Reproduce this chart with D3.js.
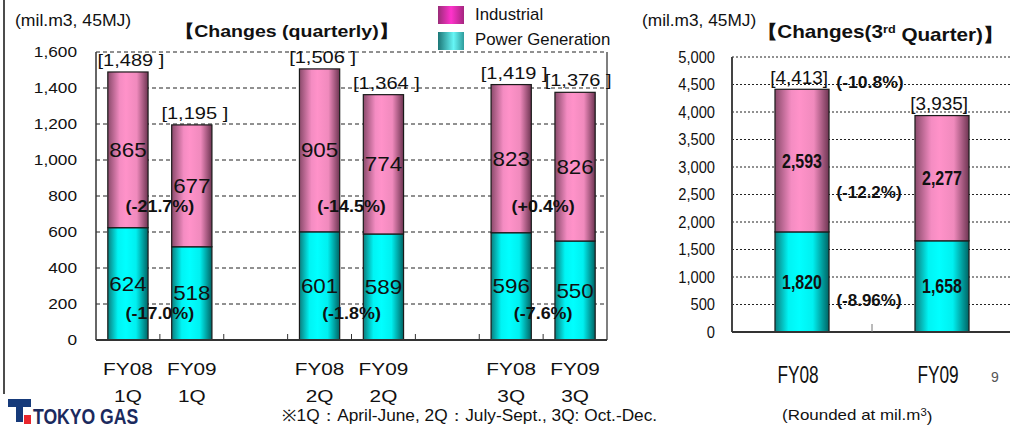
<!DOCTYPE html>
<html lang="en">
<head>
    <meta charset="UTF-8">
    <title>Gas sales changes</title>
    <script src="https://d3js.org/d3.v7.min.js"></script>
    <style>
        body { margin: 0; background: #fff; }
        text { font-family: Arial, "Liberation Sans", sans-serif; fill: #111; }
    </style>
</head>
<body>
<script>
    const width = 1010;
    const height = 428;

    // quarterly chart (left)
    const qSlots = ["FY08 1Q", "FY09 1Q", "gap1", "FY08 2Q", "FY09 2Q", "gap2", "FY08 3Q", "FY09 3Q"];
    const qCategories = ["FY08 1Q", "FY09 1Q", "FY08 2Q", "FY09 2Q", "FY08 3Q", "FY09 3Q"];
    const qPower = [624, 518, 601, 589, 596, 550];
    const qIndustrial = [865, 677, 905, 774, 823, 826];
    const qTotals = ["[1,489 ]", "[1,195 ]", "[1,506 ]", "[1,364 ]", "[1,419 ]", "[1,376 ]"];
    const qIndChange = ["(-21.7%)", "(-14.5%)", "(+0.4%)"];
    const qPowChange = ["(-17.0%)", "(-1.8%)", "(-7.6%)"];
    const qTicks = [0, 200, 400, 600, 800, 1000, 1200, 1400, 1600];

    // 3rd quarter cumulative chart (right)
    const cCategories = ["FY08", "FY09"];
    const cPower = [1820, 1658];
    const cIndustrial = [2593, 2277];
    const cTotals = ["[4,413]", "[3,935]"];
    const cChanges = {total: "(-10.8%)", industrial: "(-12.2%)", power: "(-8.96%)"};
    const cTicks = [0, 500, 1000, 1500, 2000, 2500, 3000, 3500, 4000, 4500, 5000];

    const fmt = d3.format(",");

    const svg = d3.select("body").append("svg")
            .attr("width", width).attr("height", height);

    const defs = svg.append("defs");
    function grad(id, stops) {
        const g = defs.append("linearGradient").attr("id", id)
                .attr("x1", 0).attr("x2", 1).attr("y1", 0).attr("y2", 0);
        stops.forEach(s => g.append("stop").attr("offset", s[0]).attr("stop-color", s[1]));
    }
    grad("pinkBar", [[0, "#8a4a6b"], [0.3, "#f48cc2"], [0.45, "#ff92c9"], [0.72, "#f08abd"], [1, "#6e3552"]]);
    grad("cyanBar", [[0, "#0b7d7d"], [0.25, "#00f4f4"], [0.45, "#00ffff"], [0.7, "#00f0f0"], [1, "#006464"]]);
    grad("pinkKey", [[0, "#9a2c78"], [0.5, "#ff33cc"], [1, "#a5267f"]]);
    grad("cyanKey", [[0, "#1c7676"], [0.6, "#66f6f6"], [1, "#2f9c9c"]]);

    // text helper: original text is slightly stretched or condensed horizontally
    function label(x, y, str, o = {}) {
        return svg.append("text")
                .attr("transform", `translate(${x},${y}) scale(${o.sx || 1},1)`)
                .attr("dy", "0.35em")
                .attr("text-anchor", o.anchor || "middle")
                .style("font-size", (o.size || 16) + "px")
                .style("font-weight", o.bold ? "bold" : "normal")
                .style("fill", o.fill || "#111")
                .text(str);
    }

    // ---------- left chart ----------
    const xL = d3.scaleBand().domain(qSlots).range([96, 607])
            .paddingInner(0.37).paddingOuter(0.185);
    const yL = d3.scaleLinear().domain([0, 1600]).range([340, 52]);

    const left = svg.append("g");
    left.selectAll("line.grid").data(qTicks.slice(1)).enter().append("line")
            .attr("x1", 96).attr("x2", 607)
            .attr("y1", d => yL(d)).attr("y2", d => yL(d))
            .style("stroke", "#222").style("stroke-dasharray", "4,3");
    left.append("line").attr("x1", 607).attr("x2", 607).attr("y1", yL(1600)).attr("y2", yL(0))
            .style("stroke", "#555").style("stroke-width", 1.5);

    qTicks.forEach(t => label(77, yL(t), fmt(t), {anchor: "end", size: 15, sx: 1.15}));

    const qTable = qCategories.map((c, i) => ({cat: c, power: qPower[i], industrial: qIndustrial[i]}));
    const qStack = d3.stack().keys(["power", "industrial"])(qTable);

    left.selectAll("g.series").data(qStack).enter().append("g")
            .style("fill", d => d.key === "power" ? "url(#cyanBar)" : "url(#pinkBar)")
            .selectAll("rect").data(d => d).enter().append("rect")
            .attr("x", d => xL(d.data.cat))
            .attr("width", xL.bandwidth())
            .attr("y", d => yL(d[1]))
            .attr("height", d => yL(d[0]) - yL(d[1]))
            .style("stroke", "#1a1a1a").style("stroke-width", 1.2);

    // axes lines
    left.append("line").attr("x1", 96).attr("x2", 96).attr("y1", yL(1600)).attr("y2", yL(0))
            .style("stroke", "#333").style("stroke-width", 1.5);
    left.append("line").attr("x1", 96).attr("x2", 607).attr("y1", yL(0)).attr("y2", yL(0))
            .style("stroke", "#333").style("stroke-width", 2);
    d3.range(1, qSlots.length).forEach(i => {
        const x = 96 + i * xL.step();
        left.append("line").attr("x1", x).attr("x2", x).attr("y1", yL(0)).attr("y2", yL(0) - 6)
                .style("stroke", "#333");
    });

    // value labels
    qStack.forEach(s => s.forEach(d => {
        const cx = xL(d.data.cat) + xL.bandwidth() / 2;
        label(cx, (yL(d[0]) + yL(d[1])) / 2, d.data[s.key], {size: 20, sx: 1.12});
    }));
    qCategories.forEach((c, i) => {
        const cx = xL(c) + xL.bandwidth() / 2;
        label(cx + 3, yL(qPower[i] + qIndustrial[i]) - 12, qTotals[i], {size: 17, sx: 1.18});
        const parts = c.split(" ");
        label(cx, 369, parts[0], {size: 16, sx: 1.3});
        label(cx, 396, parts[1], {size: 16, sx: 1.3});
    });
    qIndChange.forEach((t, i) => {
        const a = qCategories[i * 2], b = qCategories[i * 2 + 1];
        const cx = (xL(a) + xL(b) + xL.bandwidth()) / 2;
        label(cx, yL(745), t, {size: 16, bold: true, sx: 1.12});
        label(cx, yL(150), qPowChange[i], {size: 16, bold: true, sx: 1.12});
    });

    // ---------- right chart ----------
    const xR = d3.scaleBand().domain(cCategories).range([732, 1012])
            .paddingInner(0.614).paddingOuter(0.307);
    const yR = d3.scaleLinear().domain([0, 5000]).range([332, 57]);

    const right = svg.append("g");
    right.selectAll("line.grid").data(cTicks.slice(1)).enter().append("line")
            .attr("x1", 732).attr("x2", 1010)
            .attr("y1", d => yR(d)).attr("y2", d => yR(d))
            .style("stroke", "#222").style("stroke-dasharray", "2,2");

    cTicks.forEach(t => label(715, yR(t), fmt(t), {anchor: "end", size: 16, sx: 0.92}));

    const cTable = cCategories.map((c, i) => ({cat: c, power: cPower[i], industrial: cIndustrial[i]}));
    const cStack = d3.stack().keys(["power", "industrial"])(cTable);

    right.selectAll("g.series").data(cStack).enter().append("g")
            .style("fill", d => d.key === "power" ? "url(#cyanBar)" : "url(#pinkBar)")
            .selectAll("rect").data(d => d).enter().append("rect")
            .attr("x", d => xR(d.data.cat))
            .attr("width", xR.bandwidth())
            .attr("y", d => yR(d[1]))
            .attr("height", d => yR(d[0]) - yR(d[1]))
            .style("stroke", "#1a1a1a").style("stroke-width", 1.2);

    right.append("line").attr("x1", 732).attr("x2", 732).attr("y1", yR(5000)).attr("y2", yR(0))
            .style("stroke", "#444").style("stroke-width", 2);
    right.append("line").attr("x1", 732).attr("x2", 1010).attr("y1", yR(0)).attr("y2", yR(0))
            .style("stroke", "#333").style("stroke-width", 2);
    right.append("line").attr("x1", 732 + xR.step()).attr("x2", 732 + xR.step())
            .attr("y1", yR(0)).attr("y2", yR(0) - 8).style("stroke", "#777");

    cStack.forEach(s => s.forEach(d => {
        const cx = xR(d.data.cat) + xR.bandwidth() / 2;
        label(cx, (yR(d[0]) + yR(d[1])) / 2, fmt(d.data[s.key]), {size: 20, bold: true, sx: 0.8});
    }));
    cCategories.forEach((c, i) => {
        const cx = xR(c) + xR.bandwidth() / 2;
        label(cx - 3, yR(cPower[i] + cIndustrial[i]) - 12, cTotals[i], {size: 18, sx: 1.05});
        label(cx - 4, 375, c, {size: 23, sx: 0.75});
    });
    const cMid = (xR("FY08") + xR("FY09") + xR.bandwidth()) / 2;
    label(cMid - 2, yR(4545), cChanges.total, {size: 16, bold: true, sx: 1.1});
    label(cMid - 3, yR(2545), cChanges.industrial, {size: 17, bold: true});
    label(cMid - 3, yR(580), cChanges.power, {size: 17, bold: true});

    // ---------- titles, legend, notes ----------
    label(15, 20, "(mil.m3, 45MJ)", {anchor: "start", size: 16, sx: 1.1});
    label(642, 20, "(mil.m3, 45MJ)", {anchor: "start", size: 16, sx: 1.08});
    label(175, 31, "【Changes (quarterly)】", {anchor: "start", size: 17, bold: true, sx: 1.15});

    const t2 = label(757, 32, "", {anchor: "start", size: 18, bold: true, sx: 1.15});
    t2.append("tspan").text("【Changes(3");
    t2.append("tspan").attr("dy", "-0.45em").style("font-size", "11px").text("rd");
    t2.append("tspan").attr("dy", "0.45em").text(" Quarter)】");

    const legend = [["Industrial", "url(#pinkKey)"], ["Power Generation", "url(#cyanKey)"]];
    legend.forEach((l, i) => {
        svg.append("rect").attr("x", 438).attr("y", 6 + i * 26).attr("width", 26).attr("height", 18)
                .style("fill", l[1]);
        label(475, 14 + i * 25, l[0], {anchor: "start", size: 16, sx: 1.05});
    });

    label(282, 415, "※1Q：April-June,  2Q：July-Sept., 3Q: Oct.-Dec.", {anchor: "start", size: 16, sx: 1.08});
    const rn = label(782, 415, "(Rounded at mil.m", {anchor: "start", size: 15, sx: 1.13});
    rn.append("tspan").attr("dy", "-0.4em").style("font-size", "10px").text("3");
    rn.append("tspan").attr("dy", "0.4em").text(")");
    label(995, 377, "9", {size: 14, fill: "#555"});

    // page frame line on the left
    svg.append("line").attr("x1", 4).attr("x2", 4).attr("y1", 0).attr("y2", 394)
            .style("stroke", "#111").style("stroke-width", 1.5);

    // logo
    const logo = svg.append("g");
    logo.append("rect").attr("x", 8).attr("y", 399).attr("width", 23).attr("height", 8).style("fill", "#163a7a");
    logo.append("rect").attr("x", 16).attr("y", 399).attr("width", 7).attr("height", 23).style("fill", "#163a7a");
    logo.append("rect").attr("x", 24).attr("y", 415).attr("width", 7).attr("height", 9).style("fill", "#e8262d");
    label(33, 416, "TOKYO GAS", {anchor: "start", size: 22, sx: 0.8, fill: "#1b2a5e", bold: true});
</script>
</body>
</html>
